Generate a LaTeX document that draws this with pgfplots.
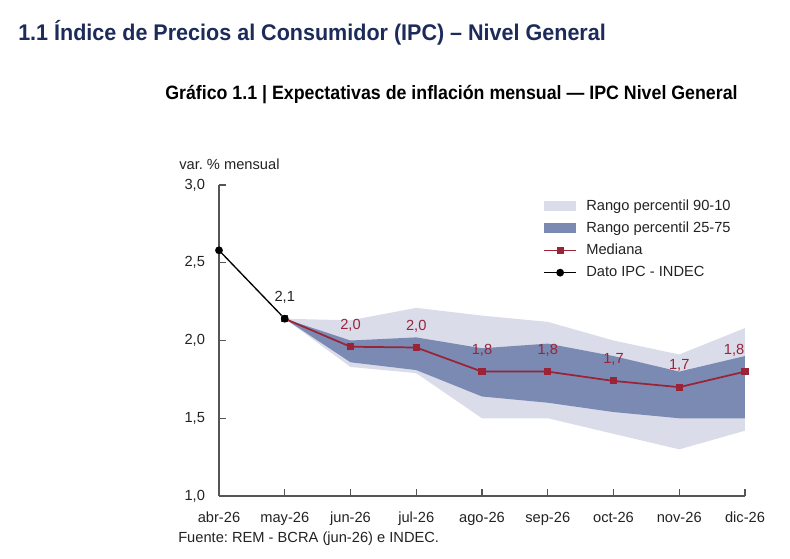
\documentclass[border=0pt]{standalone}
\usepackage{fontspec}
\setmainfont{Liberation Sans}
\newfontfamily\titlefont[FakeStretch=0.95]{Liberation Sans}
\newfontfamily\subtitlefont[FakeStretch=0.92]{Liberation Sans}
\usepackage{pgfplots}
\pgfplotsset{compat=1.18}
\usepackage{pgfplotstable}
\usepgfplotslibrary{fillbetween}

\definecolor{bandlight}{HTML}{DADCEA}
\definecolor{banddark}{HTML}{7A8AB2}
\definecolor{medred}{HTML}{9B2337}
\definecolor{navy}{HTML}{1C2B5A}
\definecolor{axisgray}{HTML}{555555}
\definecolor{txt}{HTML}{222222}

\pgfplotsset{
  line legend wide/.style={legend image code/.code={%
    \draw[mark repeat=2, mark phase=2, ##1] plot coordinates {(0pt,0pt) (12pt,0pt) (24pt,0pt)};}},
  box legend/.style={legend image code/.code={%
    \fill[#1] (0pt,-3.75pt) rectangle (24pt,3.75pt);}},
}

% REM expectations: percentiles and median (x: 0 = abr-26 ... 8 = dic-26)
\pgfplotstableread{
x p10  p25  med   p75  p90
1 2.14 2.14 2.14  2.14 2.14
2 1.83 1.86 1.96  2.00 2.13
3 1.79 1.81 1.955 2.02 2.21
4 1.50 1.64 1.80  1.95 2.16
5 1.50 1.60 1.80  1.98 2.12
6 1.40 1.54 1.74  1.90 2.00
7 1.30 1.50 1.70  1.80 1.91
8 1.42 1.50 1.80  1.90 2.08
}\rem

% Observed CPI (INDEC)
\pgfplotstableread{
x ipc
0 2.58
1 2.14
}\indec

\newcommand{\lblfont}{\fontsize{11}{13}\selectfont}

\begin{document}
\frenchspacing
\begin{tikzpicture}
\begin{scope}[x=0.75pt,y=-0.75pt]
\path[use as bounding box] (0,0) rectangle (790,558);
\node[anchor=base west, inner sep=0, text=navy, font=\titlefont\bfseries\fontsize{17}{20}\selectfont] at (18,40)
  {1.1 Índice de Precios al Consumidor (IPC) – Nivel General};
\node[anchor=base west, inner sep=0, text=black, font=\subtitlefont\bfseries\fontsize{14.5}{17}\selectfont] at (165,99)
  {Gráfico 1.1 | Expectativas de inflación mensual — IPC Nivel General};
\node[anchor=base west, inner sep=0, text=txt, font=\lblfont] at (179,169) {var. \% mensual};
\node[anchor=base west, inner sep=0, text=txt, font=\lblfont] at (178,542) {Fuente: REM - BCRA (jun-26) e INDEC.};
\end{scope}

\begin{axis}[
  at={(164.25pt,-372pt)}, anchor=south west,
  scale only axis, width=394.5pt, height=233.25pt,
  xmin=0, xmax=8, ymin=1, ymax=3,
  axis x line*=bottom, axis y line*=left,
  axis line style={axisgray, line width=0.9pt},
  tick align=inside, major tick length=5pt,
  tick style={axisgray, line width=0.9pt},
  xtick={0,...,8},
  xticklabels={abr-26,may-26,jun-26,jul-26,ago-26,sep-26,oct-26,nov-26,dic-26},
  ytick={1,1.5,2,2.5,3},
  tick label style={font=\lblfont, text=txt},
  xticklabel style={anchor=base, yshift=-20pt},
  yticklabel style={anchor=east, xshift=-7pt},
  /pgf/number format/use comma,
  /pgf/number format/fixed,
  /pgf/number format/fixed zerofill,
  /pgf/number format/precision=1,
  /pgf/number format/assume math mode=true,
  clip=false,
  legend cell align=left,
  legend style={draw=none, fill=none, inner sep=0pt, font=\lblfont, text=txt,
    at={(rel axis cs:0.616,0.963)}, anchor=north west,
    row sep=3.3pt, column sep=5pt, nodes={inner sep=2pt}},
]
\addplot[name path=p90, draw=none, forget plot] table[x=x, y=p90] {\rem};
\addplot[name path=p10, draw=none, forget plot] table[x=x, y=p10] {\rem};
\addplot[name path=p75, draw=none, forget plot] table[x=x, y=p75] {\rem};
\addplot[name path=p25, draw=none, forget plot] table[x=x, y=p25] {\rem};

\addplot[fill=bandlight, draw=none, box legend=bandlight]
  fill between[of=p90 and p10];
\addlegendentry{Rango percentil 90-10}

\addplot[fill=banddark, draw=none, box legend=banddark]
  fill between[of=p75 and p25];
\addlegendentry{Rango percentil 25-75}

\addplot[medred, line width=1.3pt, mark=square*, mark size=2pt, line legend wide]
  table[x=x, y=med] {\rem};
\addlegendentry{Mediana}

\addplot[black, line width=1pt, mark=*, mark size=2.4pt, line legend wide]
  table[x=x, y=ipc] {\indec};
\addlegendentry{Dato IPC - INDEC}

% value labels
\addplot[forget plot, draw=none, mark=none, restrict x to domain=2:7,
  point meta=y, nodes near coords,
  nodes near coords style={text=medred, font=\lblfont, anchor=south, yshift=8pt}]
  table[x=x, y=med] {\rem};
\addplot[forget plot, draw=none, mark=none, restrict x to domain=8:8,
  point meta=y, nodes near coords,
  nodes near coords style={text=medred, font=\lblfont, anchor=south east, xshift=3pt, yshift=8pt}]
  table[x=x, y=med] {\rem};
\addplot[forget plot, draw=none, mark=none, restrict x to domain=1:1,
  point meta=y, nodes near coords,
  nodes near coords style={text=txt, font=\lblfont, anchor=south, yshift=8pt}]
  table[x=x, y=ipc] {\indec};
\end{axis}
\end{tikzpicture}
\end{document}
